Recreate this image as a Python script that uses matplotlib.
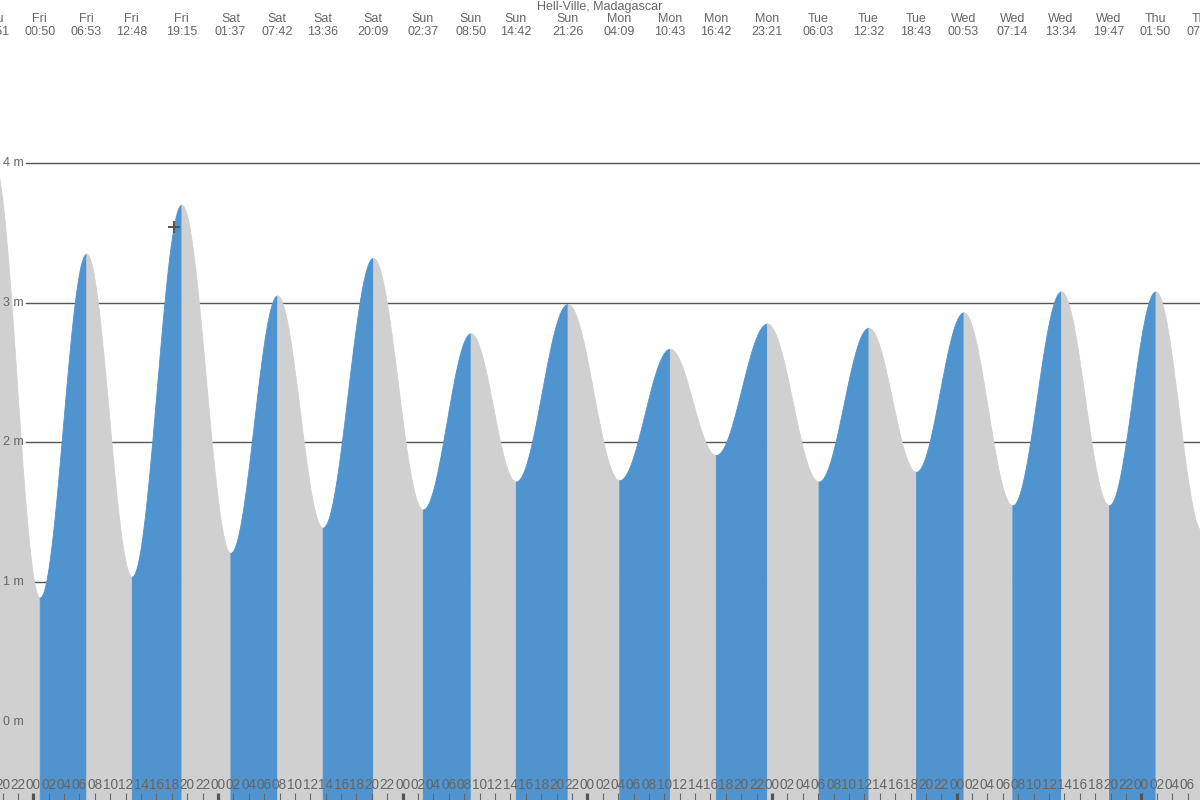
import numpy as np
import matplotlib.pyplot as plt
from matplotlib.ticker import FixedLocator, FixedFormatter
import matplotlib.transforms as mtransforms

plt.rcParams['font.family'] = ['Liberation Sans', 'DejaVu Sans']

title = 'Hell-Ville, Madagascar'

# tide extremes (day, local time, height in m)
days = ['Thu', 'Fri', 'Fri', 'Fri', 'Fri', 'Sat', 'Sat', 'Sat', 'Sat',
        'Sun', 'Sun', 'Sun', 'Sun', 'Mon', 'Mon', 'Mon', 'Mon',
        'Tue', 'Tue', 'Tue', 'Wed', 'Wed', 'Wed', 'Wed', 'Thu', 'Thu']
times = ['18:51', '00:50', '06:53', '12:48', '19:15', '01:37', '07:42', '13:36', '20:09',
         '02:37', '08:50', '14:42', '21:26', '04:09', '10:43', '16:42', '23:21',
         '06:03', '12:32', '18:43', '00:53', '07:14', '13:34', '19:47', '01:50', '07:56']
heights = [4.00, 0.89, 3.35, 1.04, 3.70, 1.21, 3.05, 1.39, 3.32,
           1.52, 2.78, 1.72, 2.99, 1.73, 2.67, 1.91, 2.85,
           1.72, 2.82, 1.79, 2.93, 1.55, 3.08, 1.55, 3.08, 1.36]

# current time marker (hours from Fri 00:00, height)
now_t = 18.3
now_h = 3.54

y_levels = [0, 1, 2, 3, 4]

BLUE = '#4f94cf'
GREY = '#d0d0d0'
TEXT = '#666666'

# convert day/time to hours since Fri 00:00
hours = []
day_idx = -1
prev = days[0]
for d, tm in zip(days, times):
    if d != prev:
        day_idx += 1
        prev = d
    hh, mm = tm.split(':')
    hours.append(day_idx * 24 + int(hh) + int(mm) / 60)
hours = np.array(hours)
heights = np.array(heights)

px_per_hour = 7.695
x0 = 33.3
px_per_m = 139.8
y0 = 722
xmin, xmax = -x0 / px_per_hour, (1200 - x0) / px_per_hour
ymin, ymax = -(800 - y0) / px_per_m, y0 / px_per_m

fig = plt.figure(figsize=(12, 8), dpi=100)
ax = fig.add_axes([0, 0, 1, 1])
ax.set_xlim(xmin, xmax)
ax.set_ylim(ymin, ymax)
for sp in ax.spines.values():
    sp.set_visible(False)

# grid lines behind the tide fill
for lv in y_levels[1:]:
    ax.axhline(lv, xmin=26 / 1200, xmax=1, color='#555555', lw=1, zorder=0.5)

# smooth curve between extremes, blue when rising, grey when falling
for i in range(len(hours) - 1):
    s = np.linspace(0, 1, 120)
    t = hours[i] + s * (hours[i + 1] - hours[i])
    h = heights[i] + (heights[i + 1] - heights[i]) * (1 - np.cos(np.pi * s)) / 2
    col = BLUE if heights[i + 1] > heights[i] else GREY
    ax.fill_between(t, h, ymin, color=col, lw=0.6, edgecolor=col, zorder=1)

ax.plot([now_t], [now_h], marker='+', color='#555555', markersize=9, mew=1.5, zorder=3)

# hour ticks inside the plot
major = [h for h in range(-24, 169, 24)]
minor = [h for h in range(-24, 169, 2) if h % 24 != 0]
ax.xaxis.set_major_locator(FixedLocator(major))
ax.xaxis.set_major_formatter(FixedFormatter([f'{h % 24:02d}' for h in major]))
ax.xaxis.set_minor_locator(FixedLocator(minor))
ax.xaxis.set_minor_formatter(FixedFormatter([f'{h % 24:02d}' for h in minor]))
ax.tick_params(axis='x', which='both', direction='in', pad=-15.5, labelsize=9.8,
               labelcolor=TEXT)
ax.tick_params(axis='x', which='major', length=5, width=2.3, color='#555555')
ax.tick_params(axis='x', which='minor', length=5, width=0.8, color='#666666')
ax.tick_params(axis='y', left=False, labelleft=False)
ax.set_axisbelow(False)

# y labels
ytrans = mtransforms.blended_transform_factory(ax.transAxes, ax.transData)
for lv in y_levels:
    ax.text(3 / 1200, lv, f'{lv} m', transform=ytrans, ha='left', va='center',
            fontsize=9, color=TEXT, zorder=3)

# extreme labels along the top
xtrans = ax.get_xaxis_transform()
for t, d, tm in zip(hours, days, times):
    ax.text(t, 1 - 19 / 800, d, transform=xtrans, ha='center', va='center',
            fontsize=9, color=TEXT)
    ax.text(t, 1 - 32 / 800, tm, transform=xtrans, ha='center', va='center',
            fontsize=9, color=TEXT)

fig.text(0.5, 1 - 7 / 800, title, ha='center', va='center', fontsize=9, color=TEXT)

fig.savefig('out.png', dpi=100)
